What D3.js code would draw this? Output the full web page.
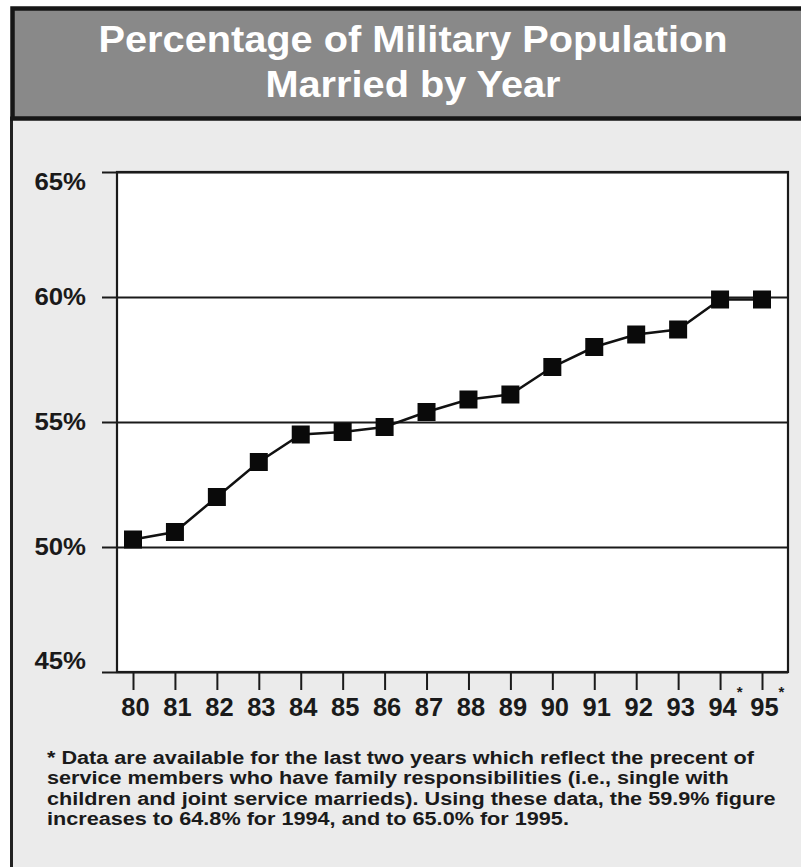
<!DOCTYPE html>
<html>
<head>
<meta charset="utf-8">
<script src="https://cdn.jsdelivr.net/npm/d3@7"></script>
<style>
  body { margin: 0; background: #fff; }
  svg { display: block; }
  text { font-family: "Liberation Sans", Arial, Helvetica, sans-serif; font-weight: bold; }
</style>
</head>
<body>
<svg id="chart" width="801" height="867"></svg>
<script>
// Percent of military population married, by year
var years = [80, 81, 82, 83, 84, 85, 86, 87, 88, 89, 90, 91, 92, 93, 94, 95];
var married = [50.3, 50.6, 52.0, 53.4, 54.5, 54.6, 54.8, 55.4, 55.9, 56.1, 57.2, 58.0, 58.5, 58.7, 59.9, 59.9];
var yTicks = [45, 50, 55, 60, 65];
var starredYears = [94, 95];
var titleLines = ['Percentage of Military Population', 'Married by Year'];
var noteLines = [
  '* Data are available for the last two years which reflect the precent of',
  'service members who have family responsibilities (i.e., single with',
  'children and joint service marrieds). Using these data, the 59.9% figure',
  'increases to 64.8% for 1994, and to 65.0% for 1995.'
];

var svg = d3.select('#chart');
var P = { left: 117, right: 788, top: 172, bottom: 672, gridLeft: 102 };

// widen text a little, the original type is set wide
function stretch(sel, k) {
  sel.each(function() {
    var w = this.getComputedTextLength();
    d3.select(this).attr('textLength', w * k).attr('lengthAdjust', 'spacingAndGlyphs');
  });
}

// Frame: lower panel and title band
svg.append('rect').attr('x', 11.5).attr('y', 118).attr('width', 820).attr('height', 800)
  .attr('fill', '#ebebeb').attr('stroke', '#222').attr('stroke-width', 3);
svg.append('rect').attr('x', 12.5).attr('y', 8.5).attr('width', 820).attr('height', 110)
  .attr('fill', '#898989').attr('stroke', '#161616').attr('stroke-width', 4.5);

var title = svg.append('g').selectAll('text').data(titleLines).join('text')
  .attr('x', 413).attr('y', function(d, i) { return 52 + i * 45; })
  .attr('text-anchor', 'middle').attr('fill', '#fff').attr('font-size', 36)
  .text(function(d) { return d; });
var tk = 629 / title.node().getComputedTextLength();
stretch(title, tk);

// Scales
var x = d3.scaleLinear().domain([80, 95]).range([133, 762]);
var y = d3.scaleLinear().domain([45, 65]).range([P.bottom, P.top]);

// Plot area
svg.append('rect').attr('x', P.left).attr('y', P.top)
  .attr('width', P.right - P.left).attr('height', P.bottom - P.top).attr('fill', '#fff');

// Y gridlines + labels
var yAxis = svg.append('g').attr('transform', 'translate(' + P.gridLeft + ',0)')
  .call(d3.axisLeft(y).tickValues(yTicks).tickSize(-(P.right - P.gridLeft)).tickPadding(16)
    .tickFormat(function(d) { return d + '%'; }));
yAxis.select('.domain').remove();
yAxis.selectAll('.tick line').attr('stroke', '#1a1a1a').attr('stroke-width', 2);
var yLabels = yAxis.selectAll('.tick text').attr('fill', '#1a1a1a').attr('font-size', 23)
  .attr('font-family', null)
  .attr('dy', function(d) { return d === 65 ? '0.75em' : d === 45 ? '-0.15em' : '0.34em'; });
stretch(yLabels, 1.12);

// Plot border
svg.append('rect').attr('x', P.left).attr('y', P.top)
  .attr('width', P.right - P.left).attr('height', P.bottom - P.top)
  .attr('fill', 'none').attr('stroke', '#1a1a1a').attr('stroke-width', 2.2);

// X axis ticks + labels
var xAxis = svg.append('g').attr('transform', 'translate(0,' + P.bottom + ')')
  .call(d3.axisBottom(x).tickValues(years).tickSize(18).tickPadding(8).tickFormat(d3.format('d')));
xAxis.select('.domain').remove();
xAxis.selectAll('.tick line').attr('stroke', '#1a1a1a').attr('stroke-width', 2);
var xLabels = xAxis.selectAll('.tick text').attr('fill', '#1a1a1a').attr('font-size', 25)
  .attr('font-family', null).attr('x', 2);
stretch(xLabels, 1.02);

// asterisk marks on the last two years
xAxis.selectAll('.tick').filter(function(d) { return starredYears.indexOf(d) >= 0; })
  .append('text').attr('x', 19).attr('y', 25).attr('text-anchor', 'middle')
  .attr('fill', '#1a1a1a').attr('font-size', 15).text('*');

// Series line + square markers
svg.append('path').datum(years)
  .attr('fill', 'none').attr('stroke', '#111').attr('stroke-width', 2.5)
  .attr('d', d3.line().x(function(d) { return x(d); }).y(function(d, i) { return y(married[i]); }));

svg.append('g').selectAll('rect').data(years).join('rect')
  .attr('x', function(d) { return x(d) - 9; })
  .attr('y', function(d, i) { return y(married[i]) - 9; })
  .attr('width', 18).attr('height', 18).attr('fill', '#0a0a0a');

// Footnote
var note = svg.append('g').selectAll('text').data(noteLines).join('text')
  .attr('x', 47).attr('y', function(d, i) { return 764 + i * 20.3; })
  .attr('fill', '#1a1a1a').attr('font-size', 18)
  .text(function(d) { return d; });
var nk = 707 / note.node().getComputedTextLength();
stretch(note, nk);
</script>
</body>
</html>
